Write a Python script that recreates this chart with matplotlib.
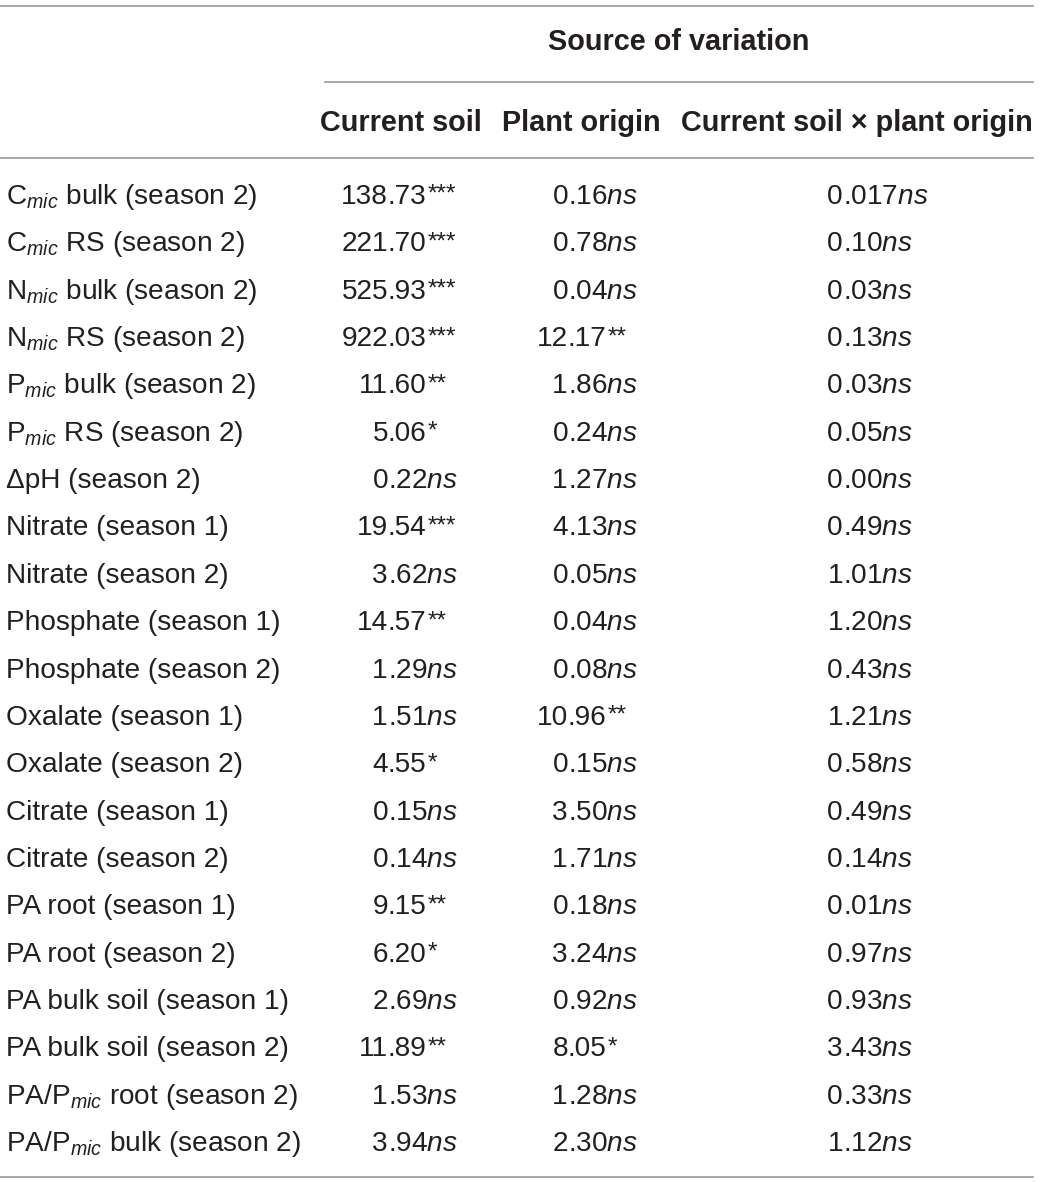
import matplotlib
matplotlib.use("Agg")
import matplotlib.pyplot as plt

plt.rcParams['font.family'] = ['Liberation Sans', 'DejaVu Sans']
plt.rcParams['mathtext.fontset'] = 'custom'
plt.rcParams['mathtext.rm'] = 'Liberation Sans'
plt.rcParams['mathtext.it'] = 'Liberation Sans:italic'
plt.rcParams['mathtext.bf'] = 'Liberation Sans:bold'

# ---- data ----
group_header = "Source of variation"
col_headers = ["Current soil", "Plant origin", "Current soil \u00d7 plant origin"]

row_labels = [
    r"C$_{\mathit{mic}}$ bulk (season 2)",
    r"C$_{\mathit{mic}}$ RS (season 2)",
    r"N$_{\mathit{mic}}$ bulk (season 2)",
    r"N$_{\mathit{mic}}$ RS (season 2)",
    r"P$_{\mathit{mic}}$ bulk (season 2)",
    r"P$_{\mathit{mic}}$ RS (season 2)",
    "\u0394pH (season 2)",
    "Nitrate (season 1)",
    "Nitrate (season 2)",
    "Phosphate (season 1)",
    "Phosphate (season 2)",
    "Oxalate (season 1)",
    "Oxalate (season 2)",
    "Citrate (season 1)",
    "Citrate (season 2)",
    "PA root (season 1)",
    "PA root (season 2)",
    "PA bulk soil (season 1)",
    "PA bulk soil (season 2)",
    r"PA/P$_{\mathit{mic}}$ root (season 2)",
    r"PA/P$_{\mathit{mic}}$ bulk (season 2)",
]

current_soil = ["138.73", "221.70", "525.93", "922.03", "11.60", "5.06", "0.22",
                "19.54", "3.62", "14.57", "1.29", "1.51", "4.55", "0.15", "0.14",
                "9.15", "6.20", "2.69", "11.89", "1.53", "3.94"]
current_sig = ["***", "***", "***", "***", "**", "*", "ns",
               "***", "ns", "**", "ns", "ns", "*", "ns", "ns",
               "**", "*", "ns", "**", "ns", "ns"]

plant_origin = ["0.16", "0.78", "0.04", "12.17", "1.86", "0.24", "1.27",
                "4.13", "0.05", "0.04", "0.08", "10.96", "0.15", "3.50", "1.71",
                "0.18", "3.24", "0.92", "8.05", "1.28", "2.30"]
plant_sig = ["ns", "ns", "ns", "**", "ns", "ns", "ns",
             "ns", "ns", "ns", "ns", "**", "ns", "ns", "ns",
             "ns", "ns", "ns", "*", "ns", "ns"]

interaction = ["0.017", "0.10", "0.03", "0.13", "0.03", "0.05", "0.00",
               "0.49", "1.01", "1.20", "0.43", "1.21", "0.58", "0.49", "0.14",
               "0.01", "0.97", "0.93", "3.43", "0.33", "1.12"]
inter_sig = ["ns"] * 21

# ---- layout ----
W, H = 1041, 1182
fig = plt.figure(figsize=(W / 100, H / 100), dpi=100)
ax = fig.add_axes([0, 0, 1, 1])
ax.set_xlim(0, W)
ax.set_ylim(H, 0)
ax.axis('off')
renderer = fig.canvas.get_renderer()

fs = 20.2
fs_head = 20.8
fs_star = 17.5
txt_color = '#231f20'
line_color = '#9a9a9a'
lw = 1.2

ax.plot([0, 1033], [6, 6], color=line_color, lw=lw)
ax.plot([325, 1033], [82, 82], color=line_color, lw=lw)
ax.plot([0, 1033], [158, 158], color=line_color, lw=lw)
ax.plot([0, 1033], [1177, 1177], color=line_color, lw=lw)

ax.text(679, 50, group_header, ha='center', va='baseline', fontsize=fs_head,
        fontweight='bold', color=txt_color)
col_centers = [401, 581, 857]
for cx, h in zip(col_centers, col_headers):
    ax.text(cx, 131, h, ha='center', va='baseline', fontsize=fs_head,
            fontweight='bold', color=txt_color)

row0, row_step = 194, 47.35
dec_x = [388, 568, 843]

for i, lab in enumerate(row_labels):
    yb = row0 + i * row_step + 10
    ax.text(6, yb, lab, ha='left', va='baseline', fontsize=fs, color=txt_color)
    for dx, vals, sigs in zip(dec_x, [current_soil, plant_origin, interaction],
                              [current_sig, plant_sig, inter_sig]):
        ip, fp = vals[i].split('.')
        ax.text(dx, yb, ip, ha='right', va='baseline', fontsize=fs, color=txt_color)
        if sigs[i] == 'ns':
            ax.text(dx, yb, '.' + fp + r"$\mathit{ns}$", ha='left', va='baseline',
                    fontsize=fs, color=txt_color)
        else:
            t = ax.text(dx, yb, '.' + fp, ha='left', va='baseline',
                        fontsize=fs, color=txt_color)
            bb = t.get_window_extent(renderer=renderer)
            x_end = ax.transData.inverted().transform((bb.x1, bb.y0))[0]
            ax.text(x_end + 1, yb - 3, sigs[i], ha='left', va='baseline',
                    fontsize=fs_star, color=txt_color)

fig.savefig('out.png', dpi=100, facecolor='white')
